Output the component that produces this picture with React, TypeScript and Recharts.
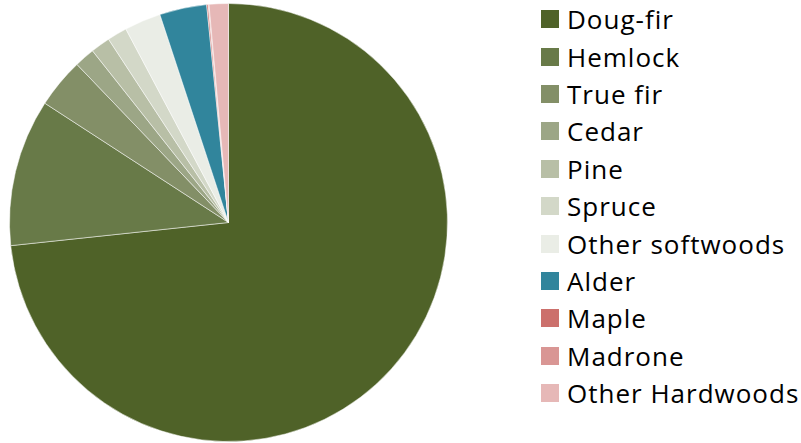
import React from "react";
import { PieChart, Pie, Cell, Legend } from "recharts";

const species = [
  "Doug-fir",
  "Hemlock",
  "True fir",
  "Cedar",
  "Pine",
  "Spruce",
  "Other softwoods",
  "Alder",
  "Maple",
  "Madrone",
  "Other Hardwoods",
];
const shares = [73.3, 10.85, 3.67, 1.5, 1.44, 1.46, 2.69, 3.48, 0.11, 0.06, 1.42];
const colors = [
  "#4F6228",
  "#687A48",
  "#838F67",
  "#9CA686",
  "#B8BFA6",
  "#D3D8C8",
  "#EAEDE6",
  "#31859C",
  "#CC706C",
  "#D99694",
  "#E6B8B7",
];

const data = species.map((name, i) => ({ name, value: shares[i] }));

const LegendContent = () => (
  <div style={{ paddingTop: 0.5 }}>
    {species.map((name, i) => (
      <div
        key={name}
        style={{ height: 37.4, display: "flex", alignItems: "center" }}
      >
        <div style={{ width: 18, height: 18, background: colors[i], flexShrink: 0 }} />
        <span
          style={{
            marginLeft: 8,
            fontFamily: "'Open Sans', sans-serif",
            fontSize: 26,
            letterSpacing: 1,
            color: "#000",
            lineHeight: 1,
            whiteSpace: "nowrap",
          }}
        >
          {name}
        </span>
      </div>
    ))}
  </div>
);

export default function App() {
  return (
    <div style={{ position: "absolute", left: 0, top: 0, background: "#fff" }}>
      <PieChart width={801} height={443} margin={{ top: 0, right: 0, bottom: 0, left: 0 }}>
        <Pie
          data={data}
          dataKey="value"
          nameKey="name"
          cx={228.5}
          cy={222.5}
          outerRadius={219}
          startAngle={90}
          endAngle={-270}
          stroke="#ffffff"
          strokeWidth={0.5}
          isAnimationActive={false}
        >
          {data.map((d, i) => (
            <Cell key={d.name} fill={colors[i]} />
          ))}
        </Pie>
        <Legend
          layout="vertical"
          verticalAlign="top"
          align="right"
          content={<LegendContent />}
          wrapperStyle={{ position: "absolute", left: 541, top: 0, width: 260 }}
        />
      </PieChart>
    </div>
  );
}
